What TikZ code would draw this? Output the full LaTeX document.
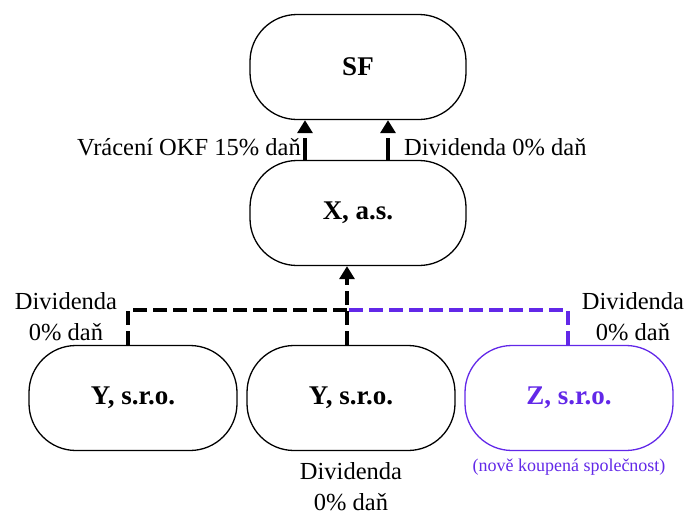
\documentclass[tikz,border=0pt]{standalone}
\usepackage{fontspec}
\setmainfont{Liberation Serif}
\usetikzlibrary{arrows.meta}
\definecolor{fialova}{RGB}{98,40,232}
\tikzstyle{spolecnost}=[rectangle, draw, line width=1.3pt, rounded corners=47pt,
    minimum width=208pt, minimum height=105pt, font={\fontsize{27}{32}\selectfont\bfseries}]
\tikzstyle{tok}=[line width=3.6pt, dash pattern=on 14pt off 6pt,
    -{Triangle[width=15pt,length=13pt]}]
\tikzstyle{spoj}=[line width=3.6pt, dash pattern=on 14pt off 6pt]
\tikzstyle{popis}=[font={\fontsize{24.5}{31}\selectfont}, align=center, inner sep=1pt]
\begin{document}
\begin{tikzpicture}[x=1pt,y=-1pt]
    \useasboundingbox (0,0) rectangle (688,517);

    % spolecnosti
    \node[spolecnost, minimum width=216pt] (sf) at (358,67) {SF};
    \node[spolecnost, minimum width=216pt] (x) at (358,213) {X, a.s.};
    \node[spolecnost] (y1) at (133,398) {Y, s.r.o.};
    \node[spolecnost] (y2) at (351,398) {Y, s.r.o.};
    \node[spolecnost, draw=fialova, text=fialova] (z) at (569,398) {Z, s.r.o.};
    \coordinate (uzel) at (347,310);

    % toky nahoru
    \draw[tok, dash pattern=on 22pt off 5pt] (x.north -| 305,0) -- (sf.south -| 305,0);
    \draw[tok, dash pattern=on 22pt off 5pt] (x.north -| 388,0) -- (sf.south -| 388,0);
    \draw[spoj] (y1.north -| 128,0) |- (uzel);
    \draw[tok] (y2.north -| 347,0) -- (x.south -| 347,0);
    \draw[spoj, fialova] (z.north -| 568,0) |- (uzel);

    % popisky
    \node[popis, anchor=east] at (302,147) {Vrácení OKF 15\% daň};
    \node[popis, anchor=west] at (403,147) {Dividenda 0\% daň};
    \node[popis] at (66,317) {Dividenda\\0\% daň};
    \node[popis] at (633,317) {Dividenda\\0\% daň};
    \node[popis] at (351,487) {Dividenda\\0\% daň};
    \node[font={\fontsize{18}{21}\selectfont}, text=fialova] at (569,467) {(nově koupená společnost)};
\end{tikzpicture}
\end{document}
